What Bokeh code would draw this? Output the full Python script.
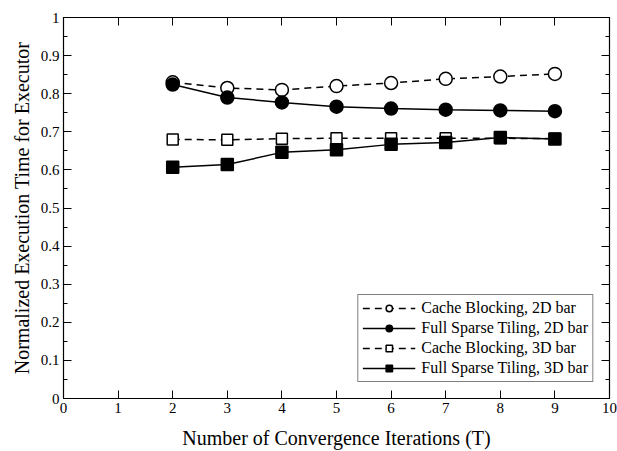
from bokeh.plotting import figure
from bokeh.models import LinearAxis, Range1d, FixedTicker, Legend, LegendItem
from bokeh.embed import file_html
from bokeh.resources import INLINE

iterations = [2, 3, 4, 5, 6, 7, 8, 9]
cache_2d = [0.830, 0.815, 0.810, 0.820, 0.828, 0.839, 0.845, 0.852]
fst_2d = [0.824, 0.790, 0.777, 0.766, 0.761, 0.758, 0.756, 0.754]
cache_3d = [0.680, 0.679, 0.682, 0.683, 0.683, 0.683, 0.683, 0.682]
fst_3d = [0.607, 0.614, 0.646, 0.653, 0.667, 0.672, 0.685, 0.681]

x_ticks = [0, 1, 2, 3, 4, 5, 6, 7, 8, 9, 10]
y_ticks = [0, 0.1, 0.2, 0.3, 0.4, 0.5, 0.6, 0.7, 0.8, 0.9, 1]
y_minor = [0.05, 0.15, 0.25, 0.35, 0.45, 0.55, 0.65, 0.75, 0.85, 0.95]

FONT = "Liberation Serif"

p = figure(width=617, height=451, output_backend="svg", toolbar_location=None,
           x_range=Range1d(0, 10), y_range=Range1d(0, 1),
           min_border_left=63, min_border_right=8, min_border_top=17, min_border_bottom=8)
p.background_fill_color = "white"
p.border_fill_color = "white"
p.outline_line_color = "black"
p.outline_line_width = 1.2
p.xgrid.visible = False
p.ygrid.visible = False

def style_axis(ax, ticks, minor=None, labels=True):
    ax.ticker = FixedTicker(ticks=ticks, minor_ticks=minor or [])
    ax.major_tick_in = 8
    ax.major_tick_out = 0
    ax.minor_tick_in = 4
    ax.minor_tick_out = 0
    ax.axis_line_color = "black"
    ax.major_tick_line_color = "black"
    ax.minor_tick_line_color = "black"
    ax.major_label_text_font = FONT
    ax.major_label_text_font_size = "15px"
    ax.major_label_text_color = "black"
    ax.axis_label_text_font = FONT
    ax.axis_label_text_font_size = "20px"
    ax.axis_label_text_font_style = "normal"
    ax.axis_label_text_color = "black"
    if not labels:
        ax.major_label_overrides = {t: "" for t in ticks}
        ax.major_label_standoff = 0

xa = p.xaxis[0]
style_axis(xa, x_ticks)
xa.axis_label = "Number of Convergence Iterations (T)"
xa.major_label_standoff = 4
xa.axis_label_standoff = 11

ya = p.yaxis[0]
style_axis(ya, y_ticks, y_minor)
ya.axis_label = "Normalized Execution Time for Executor"
ya.major_label_standoff = 4
ya.axis_label_standoff = 5

top = LinearAxis()
style_axis(top, x_ticks, labels=False)
p.add_layout(top, "above")
right = LinearAxis()
style_axis(right, y_ticks, y_minor, labels=False)
p.add_layout(right, "right")

lw = 1.5
DASH = "7 5"
l1 = p.line(iterations, cache_2d, line_color="black", line_width=lw, line_dash=DASH)
m1 = p.scatter(iterations, cache_2d, marker="circle", size=13, fill_color="white",
               line_color="black", line_width=1.5)
l2 = p.line(iterations, fst_2d, line_color="black", line_width=lw)
m2 = p.scatter(iterations, fst_2d, marker="circle", size=13, fill_color="black",
               line_color="black", line_width=1.5)
l3 = p.line(iterations, cache_3d, line_color="black", line_width=lw, line_dash=DASH)
m3 = p.scatter(iterations, cache_3d, marker="square", size=11, fill_color="white",
               line_color="black", line_width=1.5)
l4 = p.line(iterations, fst_3d, line_color="black", line_width=lw)
m4 = p.scatter(iterations, fst_3d, marker="square", size=12, fill_color="black",
               line_color="black", line_width=1.5)

legend = Legend(items=[
    LegendItem(label="Cache Blocking, 2D bar", renderers=[l1, m1]),
    LegendItem(label="Full Sparse Tiling, 2D bar", renderers=[l2, m2]),
    LegendItem(label="Cache Blocking, 3D bar", renderers=[l3, m3]),
    LegendItem(label="Full Sparse Tiling, 3D bar", renderers=[l4, m4]),
], location="bottom_right")
legend.label_text_font = FONT
legend.label_text_font_size = "16px"
legend.label_text_color = "black"
legend.border_line_color = "black"
legend.border_line_width = 1.2
legend.glyph_width = 53
legend.glyph_height = 16
legend.label_height = 16
legend.spacing = 2
legend.padding = 4
legend.margin = 16
legend.label_standoff = 6
legend.background_fill_alpha = 1
p.add_layout(legend)

open("out.html", "w").write(file_html(p, INLINE))
